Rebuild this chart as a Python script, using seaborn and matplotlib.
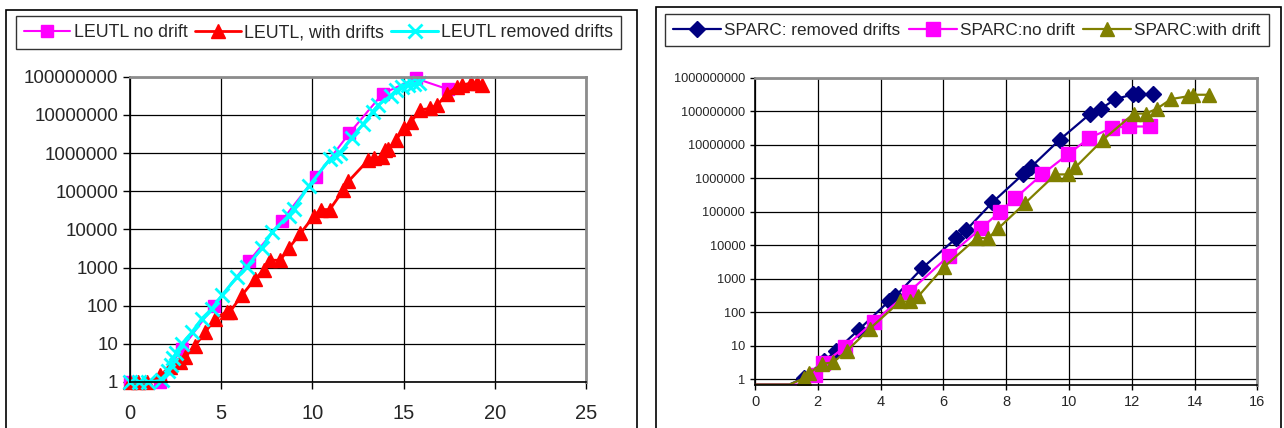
import matplotlib
matplotlib.use("Agg")
import matplotlib.pyplot as plt
import pandas as pd
import seaborn as sns
from matplotlib.ticker import FixedLocator, FuncFormatter, NullLocator
from matplotlib.patches import Rectangle

# ---------------- LEUTL data ----------------
leutl_nodrift_x = [0, 1.65, 2.84, 4.6, 6.52, 8.33, 10.2, 12.03, 13.85, 15.67, 17.42]
leutl_nodrift_y = [1, 1, 7.5, 100, 1450, 17000, 240000, 3300000, 36000000, 90000000, 47000000]

leutl_drift_x = [0, 0.45, 0.95, 1.65, 2.2, 2.75, 3.02, 3.57, 4.12, 4.67, 5.31, 5.49,
                 6.14, 6.87, 7.33, 7.69, 8.24, 8.7, 9.34, 10.1, 10.45, 10.95, 11.7,
                 11.97, 13.07, 13.35, 13.8, 14.0, 14.17, 14.6, 15.0, 15.4, 15.92,
                 16.47, 16.84, 17.39, 17.94, 18.2, 18.68, 19.04, 19.32]
leutl_drift_y = [1, 1, 1, 1.5, 2.5, 3.3, 4.6, 9, 20, 46, 70, 70,
                 190, 510, 850, 1550, 1550, 3200, 7800, 23000, 33000, 33000, 107000,
                 180000, 660000, 720000, 800000, 1200000, 1300000, 2200000, 4500000,
                 6600000, 13500000, 14800000, 18000000, 36000000, 55000000, 60000000,
                 68000000, 68000000, 60000000]

leutl_removed_x = [0, 0.5, 1.0, 1.74, 2.1, 2.23, 2.38, 2.53, 2.84, 3.39, 3.94, 4.49,
                   5.04, 5.86, 6.41, 7.23, 7.8, 8.7, 8.97, 9.8, 10.96, 11.23, 11.5,
                   12.15, 12.8, 13.3, 13.6, 14.3, 14.6, 14.93, 15.25, 15.55, 15.85]
leutl_removed_y = [1, 1, 1, 1.1, 1.9, 2.8, 4.3, 5.8, 10, 20, 46, 83,
                   186, 560, 1050, 3200, 8700, 23000, 35000, 135000, 690000, 830000,
                   1000000, 2500000, 5900000, 12000000, 18000000, 32000000, 45000000,
                   55000000, 60000000, 65000000, 69000000]

# ---------------- SPARC data ----------------
sparc_removed_x = [0, 1.1, 1.55, 2.2, 2.57, 3.3, 4.28, 4.47, 5.33, 6.4, 6.72, 7.56,
                   8.55, 8.8, 9.7, 10.67, 11.02, 11.48, 12.04, 12.2, 12.69]
sparc_removed_y = [0.7, 0.7, 1.1, 3.5, 7, 30, 220, 300, 2100, 16000, 28000, 190000,
                   1350000, 2200000, 14000000, 83000000, 120000000, 230000000,
                   320000000, 320000000, 320000000]

sparc_nodrift_x = [0, 1.4, 1.9, 2.18, 2.87, 3.78, 4.9, 6.17, 7.2, 7.8, 8.28, 9.15,
                   9.97, 10.65, 11.37, 11.9, 12.59]
sparc_nodrift_y = [0.7, 0.7, 1.35, 3, 9.3, 52, 400, 4800, 32000, 100000, 250000,
                   1320000, 5200000, 16000000, 32000000, 35000000, 35000000]

sparc_drift_x = [0, 1.1, 1.57, 1.72, 2.14, 2.49, 2.92, 3.65, 4.62, 4.95, 5.2, 6.01,
                 7.08, 7.42, 7.75, 8.6, 9.57, 9.97, 10.2, 11.08, 12.06, 12.44, 12.79,
                 13.25, 13.8, 13.94, 14.46]
sparc_drift_y = [0.7, 0.7, 1.07, 1.5, 2.9, 3.2, 7, 32, 210, 210, 300, 2200,
                 17000, 16000, 32000, 180000, 1300000, 1300000, 2100000, 14000000,
                 85000000, 85000000, 117000000, 230000000, 280000000, 310000000,
                 310000000]

left_xticks = [0, 5, 10, 15, 20, 25]
right_xticks = [0, 2, 4, 6, 8, 10, 12, 14, 16]

sns.set_style("white")
plt.rcParams["font.family"] = ["Liberation Sans", "DejaVu Sans"]

W, H = 1284, 428
fig = plt.figure(figsize=(W / 100, H / 100), dpi=100)


def axes_px(left, right, top, bottom):
    return fig.add_axes([left / W, 1 - bottom / H, (right - left) / W, (bottom - top) / H])


def draw(ax, xs, ys, label, color, **kw):
    df = pd.DataFrame({"x": xs, "y": ys})
    kw.setdefault("markeredgewidth", 1.0)
    sns.lineplot(data=df, x="x", y="y", ax=ax, sort=False, estimator=None,
                 legend=False, color=color, markeredgecolor=color,
                 markerfacecolor=color, **kw)
    line = ax.lines[-1]
    line.set_label(label)
    return line


def style_axes(ax, xticks, ydecades, xlabsize, ylabsize, xpad, ypad, ticklen):
    ax.set_yscale("log")
    ax.set_xticks(xticks)
    ax.yaxis.set_major_locator(FixedLocator([10.0 ** k for k in ydecades]))
    ax.yaxis.set_minor_locator(NullLocator())
    ax.yaxis.set_major_formatter(FuncFormatter(lambda v, p: f"{v:.0f}"))
    ax.set_xlabel("")
    ax.set_ylabel("")
    ax.grid(True, which="major", color="black", lw=0.9)
    ax.set_axisbelow(True)
    for side in ("left", "bottom"):
        ax.spines[side].set_color("black")
        ax.spines[side].set_linewidth(1.2)
    for side in ("top", "right"):
        ax.spines[side].set_color("#8c8c8c")
        ax.spines[side].set_linewidth(2.0)
    ax.tick_params(axis="x", direction="out", length=ticklen, width=1,
                   color="black", labelsize=xlabsize, pad=xpad, bottom=True)
    ax.tick_params(axis="y", direction="out", length=ticklen, width=1,
                   color="black", labelsize=ylabsize, pad=ypad, left=True)


# ---------------- left panel: LEUTL ----------------
ax1 = axes_px(130, 586, 76.7, 382)
h1 = [
    draw(ax1, leutl_nodrift_x, leutl_nodrift_y, "LEUTL no drift", "#FF00FF",
         lw=1.5, marker="s", markersize=9, clip_on=False),
    draw(ax1, leutl_drift_x, leutl_drift_y, "LEUTL, with drifts", "#FF0000",
         lw=2.0, marker="^", markersize=10.5, clip_on=False),
    draw(ax1, leutl_removed_x, leutl_removed_y, "LEUTL removed drifts", "#00FFFF",
         lw=2.2, marker="x", markersize=10, markeredgewidth=2.0, clip_on=False),
]
ax1.set_xlim(0, 25)
ax1.set_ylim(1, 1e8)
style_axes(ax1, left_xticks, range(0, 9), 14.5, 13.5, 11, 3.6, 5)

# ---------------- right panel: SPARC ----------------
ax2 = axes_px(755, 1257.4, 77.7, 384.5)
skip = lambda n: list(range(2, n))
h2 = [
    draw(ax2, sparc_removed_x, sparc_removed_y, "SPARC: removed drifts", "#000080",
         lw=1.6, marker="D", markersize=8, markevery=skip(len(sparc_removed_x))),
    draw(ax2, sparc_nodrift_x, sparc_nodrift_y, "SPARC:no drift", "#FF00FF",
         lw=1.6, marker="s", markersize=9.5, markevery=skip(len(sparc_nodrift_x))),
    draw(ax2, sparc_drift_x, sparc_drift_y, "SPARC:with drift", "#808000",
         lw=1.6, marker="^", markersize=10.5, markevery=skip(len(sparc_drift_x))),
]
ax2.set_xlim(0, 16)
ax2.set_ylim(0.7, 1e9)
style_axes(ax2, right_xticks, range(0, 10), 10.5, 9.2, 4, 3.6, 3.5)

# ---------------- panel frames ----------------
for (l, t, r) in [(6, 10, 637), (656, 7, 1281)]:
    fig.add_artist(Rectangle((l / W, -0.05), (r - l) / W, 1 - t / H + 0.05,
                             transform=fig.transFigure, fill=False,
                             edgecolor="black", lw=1.2))

# ---------------- legends ----------------
leg1 = fig.legend(handles=h1, loc="upper left", bbox_to_anchor=(16 / W, 1 - 16 / H),
                  ncol=3, fontsize=12.8, frameon=True, fancybox=False, shadow=False,
                  edgecolor="black", borderpad=0.45, handlelength=2.6,
                  handletextpad=0.2, columnspacing=0.4, borderaxespad=0)
leg1.get_frame().set_linewidth(1.0)

leg2 = fig.legend(handles=h2, loc="upper left", bbox_to_anchor=(664.6 / W, 1 - 14 / H),
                  ncol=3, fontsize=12.3, frameon=True, fancybox=False, shadow=False,
                  edgecolor="black", borderpad=0.5, handlelength=2.8,
                  handletextpad=0.18, columnspacing=0.5, borderaxespad=0)
leg2.get_frame().set_linewidth(1.0)

fig.savefig("out.png", dpi=100, facecolor="white")
